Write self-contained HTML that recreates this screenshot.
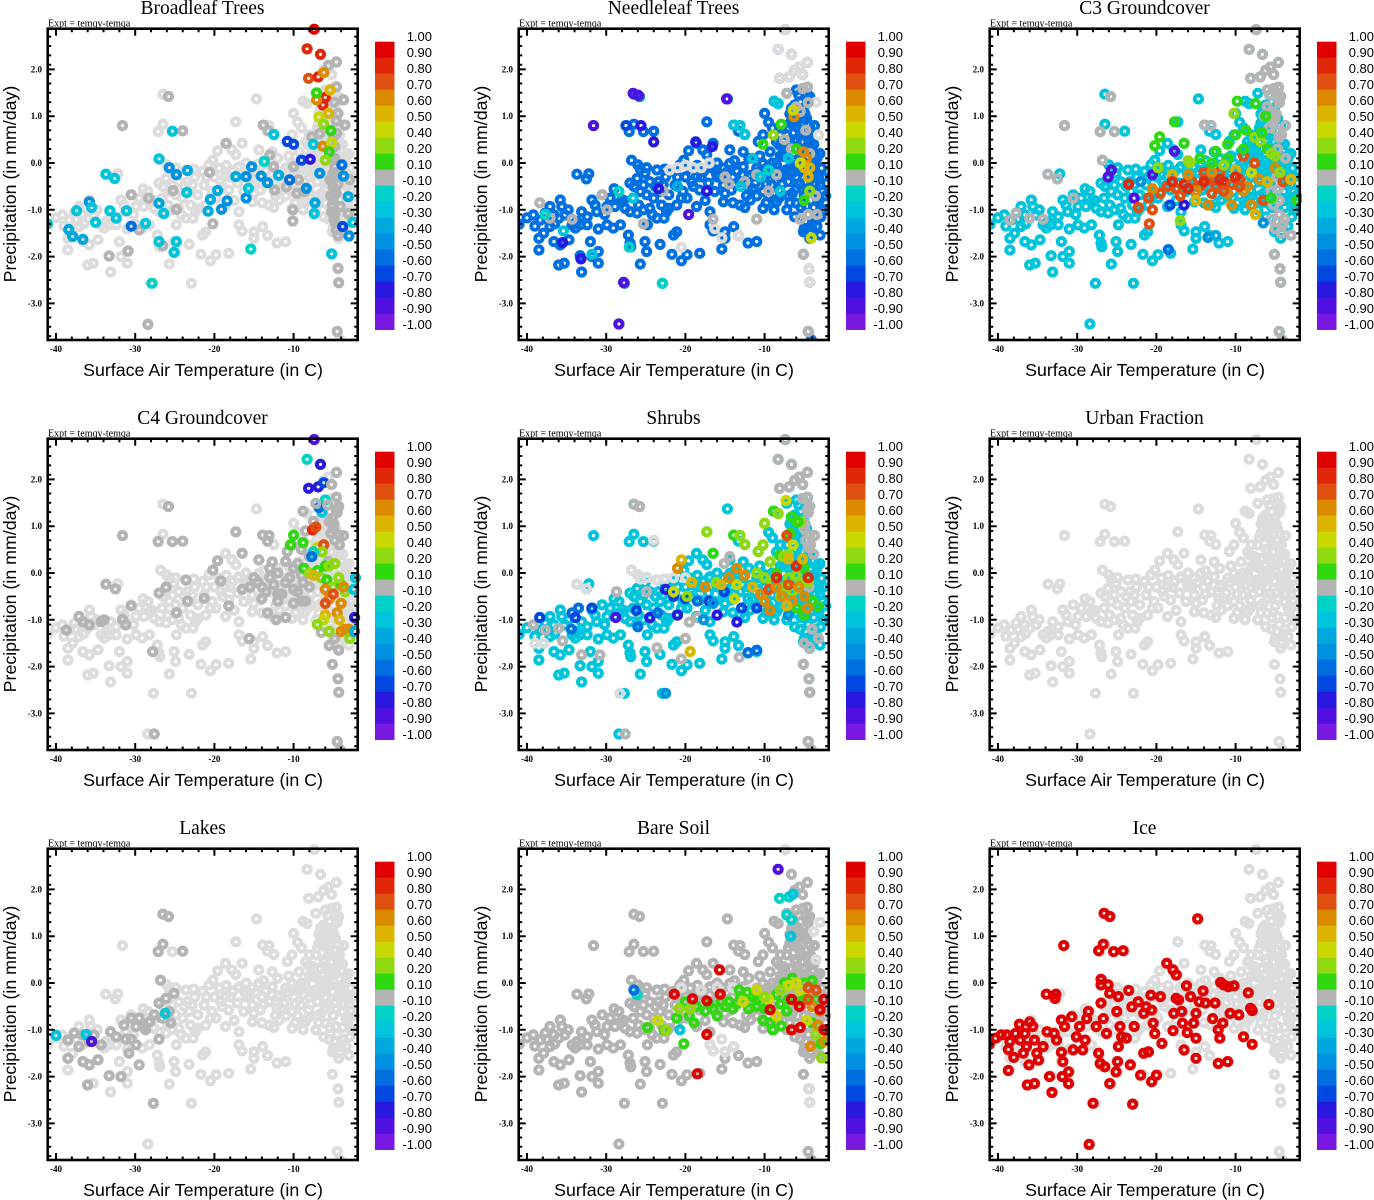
<!DOCTYPE html>
<html><head><meta charset="utf-8"><style>
html,body{margin:0;padding:0;background:#fff;}
svg{display:block;}
</style></head><body>
<svg id="chart" width="1374" height="1200" viewBox="0 0 1374 1200" xmlns="http://www.w3.org/2000/svg"></svg>
<script>
// ---------- DATA ----------
const panelTitles = ["Broadleaf Trees","Needleleaf Trees","C3 Groundcover","C4 Groundcover","Shrubs","Urban Fraction","Lakes","Bare Soil","Ice"];
const xTicks = [-40,-30,-20,-10];
const yTicks = [2.0,1.0,0.0,-1.0,-2.0,-3.0];
const cbLevels = [1.0,0.9,0.8,0.7,0.6,0.5,0.4,0.2,0.1,-0.1,-0.2,-0.3,-0.4,-0.5,-0.6,-0.7,-0.8,-0.9,-1.0];
const cbLabels = ["1.00","0.90","0.80","0.70","0.60","0.50","0.40","0.20","0.10","-0.10","-0.20","-0.30","-0.40","-0.50","-0.60","-0.70","-0.80","-0.90","-1.00"];
const cbColors = ["#e00000","#e02808","#e05010","#dc8a00","#dcb400","#c8d800","#90d810","#30d810","#b4b4b4","#00d2c8","#00c4dc","#00a8e0","#0090e0","#0070e0","#0048e0","#2818e0","#5010e0","#7818e0"];

// shared cloud of (temperature, precipitation) points
const baseCloud = [
[-7.4,2.85],[-8.3,2.43],[-6.6,2.32],[-4.6,2.15],[-6.2,1.98],[-5.6,2.05],[-5.2,1.89],[-8.1,1.81],[-6.9,1.84],[-4.6,1.62],[-7.2,1.49],[-6.0,1.56],[-5.2,1.59],[-4.3,1.42],[-4.5,1.29],[-8.8,1.32],[-8.3,1.27],[-14.7,1.37],[-26.5,1.47],[-25.8,1.42],[-31.6,0.80],[-27.1,0.67],[-26.5,0.83],[-25.3,0.67],[-24.0,0.68],[-17.3,0.88],[-10.0,1.06],[-9.5,0.87],[-13.9,0.81],[-13.1,0.80],[-13.3,0.68],[-12.5,0.61],[-18.6,0.42],[-17.8,0.28],[-17.3,0.18],[-16.5,0.42],[-19.6,0.26],[-20.2,0.06],[-14.4,0.28],[-12.7,0.24],[-10.8,0.46],[-10.2,0.60],
[-26.8,0.06],[-26.0,-0.04],[-25.7,-0.13],[-24.9,-0.10],[-33.7,-0.24],[-32.2,-0.23],[-32.5,-0.34],[-27.0,-0.43],[-26.1,-0.33],[-25.1,-0.22],[-23.6,-0.15],[-22.6,-0.13],[-23.4,-0.40],
[-6.0,1.2],[-5.5,1.1],[-6.4,1.0],[-5.0,0.95],[-6.8,0.85],[-5.8,0.75],[-4.8,0.7],[-7.2,0.6],[-6.2,0.5],[-5.3,0.45],[-4.5,0.55],[-7.6,0.35],[-6.6,0.3],[-5.6,0.25],[-4.6,0.2],[-8.5,0.45],[-9.3,0.24],[-8.1,0.38],[-3.8,0.4],[-3.4,0.1],
[-21.5,-0.18],[-20.7,-0.04],[-19.4,-0.11],[-18.6,-0.29],[-17.7,-0.18],[-16.9,-0.08],[-16.1,-0.22],[-15.2,-0.11],[-14.4,-0.01],[-13.5,-0.18],[-12.7,-0.08],[-11.8,-0.26],[-11.0,-0.11],[-10.2,-0.01],[-9.3,-0.18],[-8.5,-0.04],[-7.6,-0.22],[-6.8,-0.11],[-6.0,-0.04],[-5.1,-0.18],[-4.3,-0.08],[-3.4,-0.26],[-2.8,-0.11],
[-21.3,-0.47],[-20.3,-0.61],[-19.2,-0.40],[-18.2,-0.58],[-17.1,-0.43],[-16.3,-0.61],[-15.2,-0.47],[-14.2,-0.58],[-13.1,-0.40],[-12.1,-0.54],[-11.2,-0.43],[-10.2,-0.61],[-9.1,-0.47],[-8.1,-0.58],[-7.0,-0.40],[-6.0,-0.54],[-4.9,-0.43],[-3.9,-0.61],[-3.0,-0.47],
[-21.1,-0.90],[-19.8,-0.75],[-18.6,-0.93],[-16.9,-1.04],[-15.2,-0.83],[-13.1,-0.90],[-11.8,-0.79],[-10.2,-0.97],[-8.5,-0.83],[-7.2,-1.00],[-6.0,-0.86],[-4.7,-0.93],[-3.4,-0.75],[-2.6,-1.00],
[-20,-0.3],[-18,-0.3],[-16,-0.3],[-14,-0.3],[-12,-0.3],[-10,-0.3],[-8,-0.3],[-6,-0.3],[-4,-0.3],[-15,-0.65],[-11,-0.7],[-7,-0.7],[-5,-0.7],[-9,0.0],[-7,0.1],[-5,0.05],[-3.2,-0.3],[-2.7,-0.6],[-4.5,-1.1],[-5.5,-1.2],[-4.0,-1.3],[-5.0,-1.4],[-4.2,-1.5],[-3.8,-1.2],
[-7.6,0.14],[-6.8,0.31],[-6.0,0.46],[-5.1,0.17],[-4.3,0.38],[-3.4,0.14],[-6.4,0.81],[-5.5,0.67],[-4.7,0.95],[-6.0,1.10],[-6.6,1.17],[-5.1,1.17],[-4.3,0.81],[-5.5,1.31],[-6.2,1.24],
[-5.1,-1.47],[-4.3,-1.61],[-4.1,-1.36],[-3.0,-1.54],[-5.1,-1.95],[-4.4,-2.26],[-4.3,-2.55],[-4.5,-3.60],[-4.1,-3.78],
[-16.9,-1.32],[-16.5,-1.45],[-15.0,-1.47],[-15.0,-1.61],[-13.3,-1.55],[-12.1,-1.71],[-11.0,-1.68],[-13.9,-1.36],[-15.4,-1.84],[-18.2,-1.93],[-19.8,-1.96],[-20.5,-2.09],[-21.7,-1.95],[-21.5,-1.54],[-21.1,-1.47],[-23.2,-1.74],[-22.9,-2.57],[-24.9,-1.89],[-25.1,-1.68],[-24.8,-1.32],[-23.6,-1.18],[-22.7,-1.18],[-22.4,-1.04],[-22.1,-0.97],
[-24.5,-0.97],[-25.3,-1.00],[-26.1,-1.07],[-27.0,-1.04],[-27.6,-0.97],[-27.2,-1.54],[-27.0,-1.71],[-26.9,-1.79],[-25.7,-2.16],[-27.7,-2.57],[-28.4,-3.44],
[-41.0,-1.31],[-40,-1.17],[-39.2,-1.11],[-38.3,-1.22],[-37.7,-1.07],[-37.1,-0.93],[-36.6,-1.11],[-35.8,-0.79],[-35.6,-0.93],[-36.0,-1.18],[-35.2,-1.11],[-34.3,-1.32],[-33.7,-1.25],[-33.1,-1.04],[-32.4,-1.15],[-31.8,-0.79],[-31.4,-0.90],[-31.2,-1.04],[-30.5,-0.68],[-29.9,-0.93],[-29.5,-0.75],[-28.9,-0.93],[-28.4,-0.61],[-28.2,-0.83],[-29.9,-1.32],[-29.1,-1.39],[-28.2,-1.32],[-38.5,-1.61],[-37.9,-1.50],[-37.1,-1.36],[-36.6,-1.68],[-35.8,-1.75],[-34.7,-1.64],[-38.5,-1.86],[-33.3,-1.98],[-31.8,-2.00],[-31.0,-1.89],[-31.0,-2.14],[-36.0,-2.18],[-35.3,-2.14],[-33.1,-2.33],[-32.0,-1.68],[-31.0,-1.41],[-33.9,-1.39],[-33.3,-1.32],[-32.4,-1.32],
[-26.6,-0.75],[-25.7,-0.61],[-24.9,-0.68],[-24.0,-0.75],[-23.2,-0.61],[-22.8,-0.47],[-22.1,-0.68],[-25.3,-0.47],[-24.5,-0.40],[-25.9,-0.90],
// extra density in the main band and right spine
[-21,-0.3],[-19,-0.5],[-17,-0.1],[-15.5,-0.3],[-14.8,-0.2],[-13.8,-0.45],[-12.8,-0.25],[-12.3,-0.7],[-11.5,-0.55],[-10.8,-0.2],[-9.8,-0.45],[-9.5,-0.7],[-8.8,-0.25],[-8.2,-0.75],[-7.8,-0.45],[-7.3,-0.15],[-6.5,-0.65],[-6.4,-0.2],[-5.6,-0.45],[-5.4,-0.05],[-4.6,-0.55],[-4.4,-0.3],[-3.6,-0.45],[-3.1,-0.8],[-2.6,-0.3],[-2.3,-0.7],
[-18.5,-0.05],[-16,0.0],[-13.8,0.05],[-12,0.1],[-10.6,0.15],[-9.7,-0.1],[-8,0.15],[-6.3,0.05],[-4.9,0.3],[-3.9,-0.05],[-3.0,0.2],
[-17.5,-0.8],[-14,-0.85],[-12.5,-0.95],[-9.8,-0.85],[-8.8,-1.0],[-6.8,-0.85],[-5.4,-0.95],[-3.8,-0.95],[-2.9,-1.15],[-6.2,-1.15],[-4.8,-1.25],[-3.4,-1.35],
[-5.8,0.95],[-4.9,1.05],[-5.3,0.85],[-4.6,1.35],[-5.7,1.45],[-6.8,1.05],[-4.2,0.6],[-3.7,0.8],[-5.9,0.35],[-4.0,0.25],[-7.0,0.75],[-8.0,0.6],[-9.0,0.75],
[-23,-0.9],[-22.5,-0.3],[-20.5,-0.75],[-23.8,-0.5],[-24.2,-1.1],[-26.5,-0.5],[-27.8,-0.8],[-29,-0.55],[-30.2,-1.1],[-34.8,-1.0],[-36.5,-1.3],[-39,-1.35],[-37.5,-1.2]
];

// value assigned to the shared cloud in each panel (null = not in class, light grey)
const baseValues = [null,-0.6,-0.22,null,-0.3,null,null,0,null];

// per-panel overlay points: [temperature, precipitation, correlation value (null = light grey)]
const overBroadleaf = [
[-25.8,1.42,0],[-31.6,0.8,0],[-24.0,0.69,0],[-18.5,0.42,0],[-13.8,0.81,0],[-13.2,0.69,0],[-13.0,0.17,0],[-20.6,-0.2,0],[-25.2,-0.59,0],[-24.8,-0.99,0],[-28.3,-0.75,0],[-30.5,-0.68,0],[-29.5,-1.43,0],[-30.9,-1.88,0],[-33.3,-1.99,0],[-28.4,-3.45,0],[-26.5,-1.77,0],[-20.2,-1.3,0],[-10.1,-1.24,0],[-10.1,-1.0,0],
[-5.0,-0.51,0],[-4.8,-0.08,0],[-5.0,-0.79,0],[-4.8,-1.08,0],[-4.6,-1.43,0],[-4.4,-2.25,0],[-4.3,-2.56,0],[-4.5,-3.6,0],[-4.8,0.35,0],[-4.6,0.63,0],[-4.4,1.06,0],[-4.6,1.63,0],[-4.6,2.16,0],[-5.6,2.09,0],[-3.7,1.35,0],[-3.5,0.81,0],[-5.0,0.56,0],[-5.2,0.14,0],[-5.0,-0.22,0],[-5.4,-0.36,0],[-4.6,-0.65,0],[-4.1,-0.93,0],[-2.9,-0.36,0],[-3.1,-1.08,0],[-10,-0.08,0],[-9.4,-0.36,0],[-8.6,-0.61,0],[-9.6,-0.65,0],[-10.9,-0.51,0],[-12.5,-0.08,0],[-12.4,-0.58,0],[-7.7,0.56,0],[-6.7,0.63,0],
[-5.1,-0.3,0],[-4.9,-0.6,0],[-5.1,-0.9,0],[-4.9,-1.2,0],[-4.8,0.1,0],[-5.3,0.3,0],[-4.5,-0.2,0],[-4.4,-0.45,0],[-5.3,-0.7,0],[-4.7,-1.3,0],[-4.4,-1.55,0],[-5.2,-1.05,0],[-4.6,0.9,0],[-4.9,1.3,0],
[-41.1,-1.3,-0.25],[-33.7,-0.24,-0.25],[-32.6,-0.33,-0.25],[-35.8,-0.83,-0.45],[-35.5,-0.95,-0.3],[-37.4,-1.02,-0.25],[-38.4,-1.42,-0.35],[-37.9,-1.57,-0.4],[-36.6,-1.63,-0.4],[-35.0,-1.27,-0.3],[-33.2,-1.02,-0.25],[-31.1,-1.02,-0.3],[-32.4,-1.18,-0.3],[-30.5,-1.35,-0.55],[-28.7,-1.29,-0.25],[-27.9,-2.57,-0.2],[-27.0,0.09,-0.3],[-25.7,-0.1,-0.5],[-24.8,-0.25,-0.5],[-23.4,-0.16,-0.35],[-25.3,0.68,-0.3],[-23.5,-0.63,-0.25],[-27.0,-0.86,-0.4],[-26.4,-1.08,-0.25],[-27.0,-1.68,-0.25],[-24.8,-1.68,-0.25],[-25.1,-1.91,-0.25],[-20.5,-0.78,-0.35],[-19.6,-0.59,-0.35],[-20.8,-1.03,-0.4],[-19.1,-0.99,-0.5],[-18.4,-0.81,-0.45],[-17.3,-0.29,-0.4],[-16.0,-0.29,-0.45],[-16.0,-0.75,-0.45],[-15.3,-0.08,-0.5],[-15.4,-1.84,-0.2],[-15.7,-0.54,-0.3],[-14.1,-0.28,-0.45],[-13.7,0.03,-0.2],[-13.3,-0.42,-0.5],[-12.5,0.61,-0.3],[-10.8,0.46,-0.7],[-10.0,0.40,-0.65],[-11.9,-0.26,-0.4],[-10.5,-0.36,-0.6],[-9.0,0.06,-0.7],[-7.9,0.08,-0.8],[-7.5,0.40,-0.3],[-7.3,-0.85,-0.4],[-7.4,-1.08,-0.25],[-5.2,-1.94,-0.25],[-3.8,-1.36,-0.65],[-3.0,-1.56,-0.5],[-2.5,-1.27,-0.3],[-3.1,-0.72,-0.35],[-3.7,-0.28,-0.45],[-8.4,-0.54,-0.45],[-6.7,-0.22,-0.5],[-3.9,-0.04,-0.55],
[-7.4,2.86,0.95],[-8.3,2.44,0.85],[-6.6,2.32,0.8],[-8.1,1.81,0.75],[-6.9,1.84,0.8],[-6.2,1.93,0.65],[-6.0,1.40,0.8],[-6.3,1.24,0.8],[-7.1,1.35,0.65],[-5.4,1.56,0.5],[-7.1,1.50,0.15],[-6.8,0.98,0.45],[-5.6,1.06,0.55],[-6.2,0.83,0.3],[-5.3,0.69,0.15],[-6.3,0.36,0.65],[-5.2,0.43,0.45],[-5.5,0.24,0.15],[-6.0,0.06,0.3]
];
const overNeedleleaf = [
[-7.4,2.85,null],[-8.3,2.43,null],[-6.6,2.32,null],[-4.6,2.15,null],[-6.2,1.98,null],[-5.6,2.05,null],[-5.2,1.89,null],[-8.1,1.81,null],[-6.9,1.84,null],[-3.5,1.3,null],[-3.2,0.6,null],[-20,-0.05,null],[-18,-0.1,null],[-22,-0.15,null],[-16.3,-1.4,null],[-15.4,-1.6,null],[-13.3,-1.55,null],[-20.5,-1.8,null],[-4.3,-2.55,null],[-4.4,-2.26,null],[-19,-0.1,null],[-21,-0.1,null],[-17,0.0,null],
[-4.6,1.62,0],[-7.2,1.49,0],[-5.2,1.59,0],[-6.0,1.2,0],[-5.5,1.1,0],[-4.8,0.7,0],[-4.5,1.29,0],[-4.3,0.2,0],[-4.5,-1.1,0],[-5.5,-1.2,0],[-5.1,-1.95,0],[-4.5,-3.6,0],[-30.5,-0.68,0],[-37.1,-1.18,0],[-38.4,-0.85,0],[-34.3,-1.2,0],[-29.9,-1.0,0],[-25.3,-1.3,0],[-16.5,-1.2,0],[-11.0,-1.2,0],[-9.5,-0.6,0],[-12.5,-0.4,0],[-14.5,-0.45,0],[-15.0,-0.3,0],[-11,-0.25,0],[-8.5,-0.25,0],[-7.5,0.5,0],[-6.6,0.3,0],[-3.6,-0.7,0],[-3.4,-1.1,0],[-22.8,-0.6,0],
[-8.8,1.32,-0.25],[-8.3,1.27,-0.25],[-13.9,0.81,-0.25],[-13.1,0.80,-0.3],[-12.5,0.61,-0.25],[-28.4,-0.61,-0.2],[-26.6,-0.75,-0.25],[-22.9,-2.57,-0.2],[-37.7,-1.1,-0.2],[-35.4,-1.45,-0.25],[-27.1,-1.8,-0.2],[-31.8,-1.95,-0.25],[-10.5,-0.3,-0.25],[-9.5,-0.15,-0.2],[-8.0,-0.6,-0.25],[-7.0,0.1,-0.25],[-11.5,0.1,-0.3],[-13,-0.5,-0.25],[-21,-0.5,-0.35],
[-26.6,1.49,-0.85],[-26.0,1.45,-0.85],[-31.6,0.80,-0.85],[-14.8,1.37,-0.85],[-28.4,-3.44,-0.85],[-27.8,-2.55,-0.85],[-24.0,0.45,-0.75],[-27.5,0.8,-0.7],[-25.6,0.8,-0.75],[-16.6,0.35,-0.8],[-18.7,0.45,-0.75],[-23.4,-0.55,-0.8],[-35.5,-1.7,-0.8],[-33.2,-2.05,-0.8],[-19.6,-1.1,-0.85],[-17.3,-0.6,-0.8],
[-7.9,0.83,0.15],[-10.2,0.40,0.15],[-8.9,0.60,0.35],[-6.3,0.99,0.65],[-6.4,1.13,0.45],[-6.0,0.3,0.15],[-5.1,0.24,0.65],[-4.7,0.1,0.6],[-4.3,-0.1,0.55],[-5.0,-0.1,0.5],[-4.5,-0.3,0.5],[-5.5,0.0,0.4],[-4.3,-0.6,0.3],[-5.0,-0.8,0.15],[-4.1,-1.6,0.45]
];
const overC3 = [
[-7.4,2.85,0],[-8.3,2.43,0],[-6.6,2.32,0],[-4.6,2.15,0],[-6.2,1.98,0],[-5.6,2.05,0],[-5.2,1.89,0],[-8.1,1.81,0],[-6.9,1.84,0],[-4.6,1.62,0],[-5.2,1.59,0],[-6.0,1.56,0],[-4.3,1.42,0],[-4.5,1.29,0],[-6.0,1.2,0],[-5.5,1.1,0],[-6.4,1.0,0],[-5.0,0.95,0],[-4.8,0.7,0],[-5.8,0.75,0],[-4.5,0.55,0],[-13.9,0.81,0],[-13.1,0.80,0],[-25.8,1.42,0],[-31.6,0.8,0],[-27.1,0.67,0],[-25.3,0.67,0],[-33.7,-0.24,0],[-32.5,-0.34,0],[-26.8,0.06,0],[-4.5,-1.1,0],[-5.5,-1.2,0],[-4.0,-1.3,0],[-5.0,-1.4,0],[-4.2,-1.5,0],[-5.1,-1.95,0],[-4.4,-2.26,0],[-4.3,-2.55,0],[-4.5,-3.6,0],[-4.1,-3.78,0],[-3.8,-1.2,0],[-3.0,-1.54,0],[-38.5,-1.22,0],[-37.7,-1.07,0],[-36.0,-1.18,0],[-34.3,-1.2,0],[-30.5,-0.75,0],[-4.7,0.3,0],[-3.7,0.1,0],[-5.5,-0.6,0],[-4.5,-0.8,0],[-4.9,1.05,0],[-5.3,0.85,0],[-4.6,1.35,0],[-5.7,1.45,0],[-4.2,0.6,0],[-3.7,0.8,0],[-4.8,-0.3,0],[-4.6,-0.55,0],[-5.2,-0.9,0],
[-26.1,-0.3,-0.85],[-25.7,-0.15,-0.85],[-20.5,-0.25,-0.85],[-16.5,-0.9,-0.8],[-18.3,-0.9,-0.7],[-17.7,0.25,-0.85],[-22.8,-0.75,-0.85],[-22,-0.4,-0.5],[-13.5,-1.59,-0.5],[-12.5,-1.55,-0.4],[-18.5,-1.85,-0.6],[-6.5,-1.28,-0.5],
[-18.6,-0.5,0.75],[-17.5,-0.55,0.75],[-16.5,-0.45,0.85],[-15.5,-0.4,0.75],[-14.5,-0.5,0.7],[-13.5,-0.35,0.75],[-12.5,-0.5,0.75],[-11.5,-0.4,0.8],[-10.5,-0.45,0.7],[-9.5,-0.35,0.75],[-8.5,-0.5,0.65],[-15.0,-0.6,0.65],[-13,-0.65,0.75],[-11,-0.65,0.65],[-9,-0.6,0.6],[-17,-0.7,0.75],[-19.5,-0.65,0.75],[-20.5,-0.55,0.6],[-21,-0.75,0.75],[-22.3,-0.95,0.75],[-20.5,-1.0,0.75],[-20.9,-1.3,0.75],[-23.5,-0.45,0.8],[-18,-0.25,0.55],[-16,-0.25,0.6],[-14,-0.2,0.7],[-12,-0.2,0.75],[-10,-0.15,0.55],[-8,-0.2,0.45],[-7,-0.35,0.6],[-6,-0.4,0.55],[-5,-0.1,0.65],[-4,-0.4,0.7],[-3,-0.35,0.55],[-6.5,-0.8,0.75],[-8,-0.9,0.6],[-10.5,-0.9,0.6],[-7.5,-1.1,0.5],[-13.5,-0.9,0.6],[-15.0,-0.8,0.55],[-7.6,0.0,0.7],[-9,0.15,0.75],
[-16,-0.55,0.8],[-14,-0.4,0.8],[-12,-0.35,0.85],[-10,-0.3,0.8],[-18,-0.4,0.8],[-11.5,-0.6,0.75],[-9.5,-0.5,0.75],[-13,-0.2,0.65],
[-17.7,0.88,0.15],[-16.5,0.42,0.15],[-19.6,0.56,0.15],[-20.2,0.37,0.15],[-19.8,-0.1,0.2],[-10.2,1.06,0.3],[-10.0,0.6,0.15],[-11,0.4,0.15],[-8.7,0.70,0.15],[-6.8,0.45,0.2],[-6.0,0.3,0.15],[-5.5,0.2,0.3],[-7.5,1.27,0.15],[-9.8,1.32,0.15],[-7.6,0.55,0.3],[-12.5,0.25,0.15],[-14.5,0.1,0.15],[-16,0.05,0.3],[-13,0.0,0.15],[-11,0.1,0.15],[-9,0.3,0.15],[-6.2,1.0,0.15],[-6.7,0.65,0.15],[-5.0,0.15,0.3],[-4.4,-0.2,0.2],[-2.3,-0.8,0.15],[-17,-1.23,0.3],[-5.5,-0.75,0.15],[-11.5,-0.05,0.3],[-15.8,-0.0,0.3]
];
const overC4 = [
[-8.3,2.43,-0.2],[-7.4,2.85,-0.85],[-6.6,2.32,-0.75],[-8.1,1.81,-0.75],[-6.9,1.84,-0.75],[-6.2,1.93,-0.7],[-6.0,1.56,-0.2],[-6.4,1.3,-0.25],[-6.8,1.4,-0.6],
[-4.6,2.15,0],[-5.2,1.89,0],[-4.6,1.62,0],[-4.5,1.29,0],[-4.3,1.42,0],[-7.2,1.49,0],[-8.8,1.32,0],[-5.5,1.1,0],[-5.0,0.95,0],[-4.8,0.7,0],[-5.6,0.25,0],[-4.3,0.81,0],[-5.1,1.17,0],[-4.9,1.05,0],[-5.3,0.85,0],[-4.6,1.35,0],[-5.7,1.45,0],[-4.2,0.6,0],[-3.7,0.8,0],
[-25.8,1.42,0],[-31.6,0.8,0],[-27.1,0.67,0],[-25.3,0.67,0],[-24,0.68,0],[-17.3,0.88,0],[-13.9,0.81,0],[-13.1,0.8,0],[-13.3,0.68,0],[-16.5,0.42,0],[-19.6,0.26,0],[-20.2,0.06,0],[-14.4,0.28,0],[-12.7,0.24,0],[-10.8,0.46,0],[-10.2,0.6,0],[-33.7,-0.24,0],[-32.5,-0.34,0],[-27,-0.43,0],[-26.1,-0.3,0],[-23.6,-0.15,0],[-23.4,-0.6,0],[-21.3,-0.54,0],[-19.2,-0.17,0],[-18.2,-0.7,0],[-16.5,-0.35,0],[-15.5,-0.3,0],[-37.1,-0.93,0],[-36.6,-1.04,0],[-35.8,-1.11,0],[-38.7,-1.22,0],[-34.3,-1.04,0],[-33.9,-1.0,0],[-31.6,-0.99,0],[-31.2,-1.11,0],[-30.5,-0.70,0],[-27.8,-1.68,0],[-24.8,-0.85,0],[-27.6,-3.44,0],[-15.6,-1.4,0],[-6.5,-1.27,0],
[-15,-0.1,0],[-14,-0.3,0],[-13,-0.1,0],[-12,-0.45,0],[-11,-0.2,0],[-10,-0.35,0],[-9,-0.05,0],[-8,-0.3,0],[-14,-0.55,0],[-12,-0.6,0],[-10,-0.65,0],[-8.5,-0.6,0],[-13,0.1,0],[-11,0.25,0],[-9.5,0.2,0],[-8,0.35,0],[-9,0.5,0],[-8.5,0.9,0],[-7.5,1.1,0],[-5.5,-1.55,0],[-4.8,-1.4,0],[-4.3,-1.65,0],[-5.1,-1.95,0],[-4.4,-2.26,0],[-4.3,-2.55,0],[-4.5,-3.6,0],[-4.1,-3.78,0],[-11,-0.95,0],[-13.3,-0.85,0],[-12.2,-1.0,0],
[-14.5,-0.2,0],[-13.5,-0.4,0],[-12.5,-0.25,0],[-11.5,-0.45,0],[-10.5,-0.1,0],[-9.5,-0.4,0],[-8.8,-0.2,0],[-12,0.0,0],[-10,0.1,0],[-9,-0.6,0],
[-7.6,0.92,0.85],[-7.2,0.98,0.75],[-10,0.81,0.15],[-10.4,0.6,0.15],[-8.8,0.65,0.15],[-7.0,0.55,0.4],[-6.2,0.6,0.7],[-6.4,0.45,0.35],[-7.5,0.45,-0.2],[-7.7,0.35,-0.55],
[-8.7,0.1,0.15],[-8.0,0.0,0.2],[-7.0,0.05,0.15],[-6.0,0.15,0.15],[-5.5,0.15,0.25],[-4.8,0.2,0.25],[-6.5,-0.1,0.2],[-5.8,-0.15,0.15],[-5,-0.3,0.2],[-4,-0.25,0.15],[-3.5,-0.4,0.3],[-4.3,-0.1,0.3],[-7.5,-0.05,0.55],
[-6,-0.35,0.6],[-5.5,-0.55,0.65],[-6.0,-0.65,0.75],[-5,-0.45,0.75],[-4,-0.65,0.6],[-4.5,-0.85,0.6],[-6.0,-0.9,0.5],[-3.7,-0.3,0.6],[-4.2,-1.0,0.5],[-3.5,-1.2,0.6],[-4.0,-1.25,0.65],[-6.2,-1.0,0.4],[-7.0,-1.1,0.2],[-5.5,-1.25,0.35],[-3,-1.2,0.6],[-2.9,-1.4,0.3],
[-2.3,-0.95,-0.8],[-2.2,-0.1,-0.3],[-2.4,-0.35,-0.3],[-2.3,-1.25,-0.4]
];
const overShrubs = [
[-26.8,0.06,null],[-26.0,-0.04,null],[-25.7,-0.13,null],[-24.9,-0.10,null],[-23.6,-0.15,null],[-22.6,-0.13,null],[-24,0.7,null],[-33.7,-0.24,null],[-32.5,-0.34,null],[-28.3,-2.57,null],[-21.5,-0.1,null],[-20,-0.1,null],[-39,-1.5,null],[-37.9,-1.5,null],
[-7.4,2.85,0],[-8.3,2.43,0],[-6.6,2.32,0],[-4.6,2.15,0],[-6.2,1.98,0],[-5.6,2.05,0],[-5.2,1.89,0],[-8.1,1.81,0],[-6.9,1.84,0],[-4.6,1.62,0],[-5.2,1.59,0],[-4.3,1.42,0],[-4.5,1.29,0],[-5.0,0.95,0],[-4.8,0.7,0],[-4.5,0.55,0],[-4.3,0.81,0],[-3.8,0.4,0],[-25.8,1.42,0],[-26.5,1.47,0],[-39.2,-1.11,0],[-37.7,-1.22,0],[-36.0,-1.18,0],[-35.5,-1.45,0],[-33.1,-1.75,0],[-30.8,-1.75,0],[-28.7,-0.4,0],[-24.9,-0.4,0],[-23.6,-1.6,0],[-20.5,-1.84,0],[-20,-1.4,0],[-19.5,-1.05,0],[-18.5,-0.95,0],[-13.2,-1.8,0],[-27.6,-3.44,0],[-5.1,-1.95,0],[-4.4,-2.26,0],[-4.3,-2.55,0],[-4.5,-3.6,0],[-4.1,-3.78,0],[-5,-1.5,0],[-4.3,-1.6,0],[-14.4,0.35,0],[-15.1,0.2,0],[-4,-1.2,0],[-3.2,-1.4,0],[-4.9,1.05,0],[-4.6,1.35,0],[-4.2,0.6,0],[-3.7,0.8,0],[-4.4,-0.3,0],
[-34.3,-0.85,-0.6],[-33.5,-0.75,-0.6],[-38.4,-0.95,-0.7],[-33.9,-0.95,-0.7],[-34.4,-1.2,-0.6],[-31.8,-0.75,-0.7],[-28.8,-0.95,-0.85],[-26.2,-0.8,-0.7],[-24.5,-0.95,-0.75],[-23.5,-0.85,-0.55],[-22.5,-0.35,-0.8],[-21.5,-0.5,-0.7],[-21,-0.9,-0.8],[-20,-0.55,-0.65],[-18.5,-0.6,-0.55],[-17,-0.6,-0.7],[-16,-0.9,-0.8],[-13.5,-1.05,-0.8],[-15.1,-0.4,-0.7],[-12.9,-0.75,-0.65],[-11,-0.75,-0.7],[-12.1,-1.7,-0.6],[-11,-1.65,-0.6],[-9.3,-0.8,-0.7],[-7,-0.9,-0.5],[-17.7,-1.0,-0.5],[-22.5,-2.57,-0.5],[-16.5,-0.65,-0.5],[-26,-1.15,-0.6],
[-8.9,1.32,0.15],[-8.3,1.27,0.3],[-10.0,1.06,0.3],[-17.3,0.88,0.3],[-13.9,0.81,0.15],[-13.1,0.80,0.2],[-12.5,0.61,0.3],[-16.5,0.42,0.15],[-10.8,0.46,0.3],[-10.2,0.6,0.3],[-9.3,0.24,0.2],[-8.1,0.38,0.15],[-7.6,0.35,0.3],[-6.8,0.85,0.15],[-6.0,1.1,0.15],[-6.6,1.2,0.15],[-5.5,1.1,0.2],[-7.0,0.4,0.2],[-8.5,0.0,0.15],[-7,-0.1,0.3],[-6,-0.05,0.2],[-5,0.1,0.15],[-4.5,-0.2,0.3],[-4,-0.6,0.15],[-3.3,-0.7,0.15],[-5,-0.9,0.15],[-8,-0.5,0.3],[-10,-0.1,0.3],[-11,0.0,0.2],[-16.1,-0.2,0.3],[-19.8,-0.5,0.3],[-13.5,-0.25,0.4],[-6.4,0.6,0.45],[-7.3,1.55,0.4],[-5.8,1.1,0.15],
[-9,-0.2,0.3],[-7.5,-0.3,0.2],[-6.5,-0.4,0.3],[-5.5,-0.2,0.3],[-6,-0.75,0.15],
[-20.5,0.28,0.55],[-21,0.1,0.6],[-19.2,-0.2,0.55],[-17.5,-0.3,0.6],[-15.5,-0.25,0.55],[-14.5,-0.1,0.6],[-13.5,0.1,0.65],[-12.5,-0.05,0.65],[-11.5,-0.3,0.55],[-10.5,-0.45,0.6],[-9.5,-0.35,0.7],[-8.5,-0.3,0.6],[-7.8,-0.5,0.6],[-7,-0.25,0.7],[-6.5,-0.6,0.65],[-5.7,-0.3,0.65],[-5,-0.5,0.6],[-4.5,-0.1,0.8],[-6,0.15,0.8],[-7.2,0.8,0.7],[-5.2,0.3,0.55],[-9.3,-0.8,0.6],[-10,-0.6,0.6],[-7.2,-0.7,0.5],[-4.6,-0.75,0.65],[-21.5,-0.4,0.45],[-13.8,-0.55,0.45],[-19.4,-1.68,0.5],[-8.5,-0.1,0.8],[-7,0.3,0.55]
];
const overUrban = [];
const overLakes = [
[-38.5,-1.22,0],[-37.7,-1.07,0],[-36.6,-1.11,0],[-35.8,-1.25,0],[-35.2,-1.11,0],[-34.3,-1.32,0],[-33.1,-1.04,0],[-32.4,-1.15,0],[-31.4,-0.90,0],[-30.5,-0.75,0],[-29.9,-0.93,0],[-29.5,-0.75,0],[-28.9,-0.93,0],[-28.2,-0.83,0],[-27.6,-0.68,0],[-26.6,-0.75,0],[-25.7,-0.61,0],[-29.9,-1.32,0],[-38.5,-1.61,0],[-37.1,-1.36,0],[-36.6,-1.68,0],[-35.8,-1.75,0],[-36.0,-2.18,0],[-34.7,-1.64,0],[-33.3,-1.98,0],[-31.8,-2.0,0],[-30.5,-1.2,0],[-27.7,-2.57,0],[-26.5,1.47,0],[-25.8,1.42,0],[-26.5,0.83,0],[-27.1,0.67,0],[-24,0.68,0],[-26.8,0.06,0],[-27.0,-0.43,0],[-26.1,-0.33,0],[-25.1,-0.22,0],[-28.7,-1.0,0],[-29.5,-1.75,0],[-30.8,-1.5,0],[-31.2,-1.2,0],[-27,-1.2,0],[-25.5,-0.85,0],
[-40.0,-1.12,-0.25],[-36.2,-1.1,-0.3],[-26.2,-0.65,-0.25],[-35.5,-1.25,-0.85]
];
const overBareSoil = [
[-7.4,2.85,null],[-20.5,-0.1,null],[-18,-0.15,null],[-16,-0.1,null],[-14,-0.1,null],[-12,-0.15,null],[-16.9,-1.32,null],[-16.5,-1.45,null],[-15,-1.47,null],[-15.4,-1.2,null],[-13.9,-1.36,null],[-4.3,-2.26,null],[-4.3,-2.55,null],[-3.5,0.5,null],[-3,1.3,null],[-3.8,1.1,null],
[-8.3,2.43,-0.9],[-8.1,1.81,-0.2],[-6.9,1.84,-0.2],[-6.4,1.9,-0.25],[-7.2,1.45,-0.2],[-6.6,1.35,-0.2],[-6.7,1.0,-0.25],[-26.1,-0.25,-0.2],[-26.5,-0.15,-0.6],[-20.7,-1.0,-0.25],
[-24.8,-0.95,0.15],[-22.7,-1.0,0.15],[-21.1,-0.75,0.15],[-20.2,-1.3,0.15],[-20,-0.4,0.15],[-19.5,-0.7,0.15],[-18.9,-0.85,0.15],[-18.6,-0.5,0.15],[-17.5,-0.6,0.15],[-16.5,-0.55,0.15],[-15.5,-0.4,0.15],[-14.5,-0.4,0.15],[-13.5,-0.45,0.15],[-13.2,-0.15,0.15],[-12.2,-0.2,0.15],[-12,-0.55,0.15],[-11,-0.5,0.15],[-10.2,-0.8,0.15],[-9.3,-0.85,0.15],[-9,-1.0,0.15],[-8.5,-0.25,0.15],[-7.5,0.0,0.15],[-6.5,0.1,0.15],[-6.0,-0.4,0.15],[-7.2,-0.6,0.15],[-8,-0.45,0.15],[-5.0,0.0,0.15],[-4,0.05,0.15],[-3.5,-0.35,0.15],[-7.9,-0.92,0.15],[-4,-0.85,0.15],[-2.9,-1.3,0.15],[-16,-0.7,0.15],[-14,-0.55,0.15],[-10,-0.55,0.15],[-11.5,-0.3,0.15],
[-15,-0.5,0.15],[-13,-0.3,0.15],[-11,-0.35,0.15],[-9.5,-0.55,0.15],[-7,-0.35,0.15],[-5,-0.35,0.15],[-17,-0.45,0.15],
[-23.5,-0.8,0.45],[-22.5,-1.0,0.35],[-20.8,-0.55,0.35],[-19.4,-0.55,0.35],[-12.7,-0.4,0.45],[-11,-0.15,0.45],[-9.5,-0.35,0.45],[-8.5,-0.7,0.4],[-5.5,-0.15,0.45],[-7,-0.05,0.4],[-6,0.0,0.4],[-4.7,-0.8,0.4],[-3.5,-1.1,0.35],[-2.8,-1.6,0.35],[-8,-0.15,0.35],[-10,-0.3,0.35],
[-4.5,-0.1,0.7],[-3.5,-0.15,0.7],[-3.0,-0.6,0.6],[-4.2,-1.35,0.6],[-2.5,-1.25,0.6],[-4.0,-0.5,0.6],[-3.3,-0.9,0.6],
[-21.4,-0.24,0.95],[-19.1,-0.34,0.95],[-17.3,-0.38,0.95],[-15.6,-0.24,0.95],[-15.7,0.28,0.95],[-17.3,-1.1,0.95],[-18.5,-1.94,0.95],[-9.3,-0.57,0.95],[-6.6,-0.35,0.95],[-5.6,-0.5,0.95],[-5.5,-0.95,0.95],[-6.6,-1.0,0.95],[-3.0,-0.57,0.95],[-2.5,-0.35,0.95],[-2.5,-1.0,0.9],[-4.5,-0.35,0.75]
];
const overIce = [
[-41.1,-1.31,0.95],[-40.3,-1.18,0.95],[-39.6,-1.11,0.95],[-38.9,-1.11,0.95],[-38.5,-1.25,0.95],[-38.7,-1.42,0.95],[-38.7,-1.87,0.95],[-38.0,-1.59,0.95],[-37.8,-1.08,0.95],[-37.3,-0.88,0.95],[-37.2,-1.22,0.95],[-36.6,-1.08,0.95],[-36.4,-1.36,0.95],[-36.8,-1.5,0.95],[-36.1,-1.75,0.95],[-36.0,-0.83,0.95],[-35.6,-0.93,0.95],[-35.4,-1.22,0.95],[-35.1,-1.5,0.95],[-36.3,-2.18,0.95],[-35.4,-2.15,0.95],[-34.9,-1.65,0.95],[-34.3,-1.36,0.95],[-33.8,-1.04,0.95],[-33.9,-0.24,0.95],[-32.7,-0.24,0.95],[-32.8,-0.33,0.95],[-33.5,-2.0,0.95],[-33.2,-2.34,0.95],[-32.9,-1.08,0.95],[-32.6,-1.22,0.95],[-32.0,-0.79,0.95],[-32.0,-1.48,0.95],[-31.8,-1.68,0.95],[-31.9,-2.0,0.95],[-31.7,0.80,0.95],[-31.6,-0.93,0.95],[-31.1,-1.9,0.95],[-31.1,-2.15,0.95],[-30.7,-0.72,0.95],[-30.5,-1.43,0.95],[-30.1,-1.15,0.95],[-29.7,-0.93,0.95],[-29.3,-1.43,0.95],[-29.0,-1.22,0.95],[-28.8,-0.76,0.95],[-28.6,-0.61,0.95],[-28.5,-3.45,0.95],[-28.0,-2.57,0.95],[-27.6,-0.93,0.95],[-27.3,-1.5,0.95],[-27.3,0.69,0.95],[-27.0,0.08,0.95],[-27.0,-0.04,0.95],[-27.0,-0.43,0.95],[-26.6,1.49,0.95],[-25.9,1.42,0.95],[-26.7,0.83,0.95],[-25.4,0.67,0.95],[-24.2,0.69,0.95],[-26.1,-0.04,0.95],[-25.9,-0.22,0.95],[-26.7,-0.76,0.95],[-26.3,-1.08,0.95],[-27.1,-1.72,0.95],[-26.5,-1.79,0.95],[-25.9,-2.15,0.95],[-25.0,-0.61,0.95],[-24.8,-0.29,0.95],[-24.6,-0.93,0.95],[-25.1,-1.9,0.95],[-24.9,-1.68,0.95],[-24.8,-1.36,0.95],[-24.4,-1.15,0.95],[-23.8,-1.18,0.95],[-23.3,-1.75,0.95],[-23.0,-2.59,0.95],[-23.5,-0.16,0.95],[-23.1,-0.51,0.95],[-22.8,-0.93,0.95],[-22.3,-0.4,0.95],[-21.6,-0.65,0.95],[-21.3,-0.51,0.95],[-22.0,-1.97,0.95],[-21.6,-1.5,0.95],[-21.0,-1.47,0.95],[-20.7,-0.26,0.95],[-20.6,-0.58,0.95],[-20.4,-0.86,0.95],[-20.2,-1.08,0.95],[-20.0,-1.97,0.95],[-20.6,-2.11,0.95],[-19.5,-0.29,0.95],[-19.3,-1.29,0.95],[-18.7,0.42,0.95],[-17.9,0.28,0.95],[-17.5,0.17,0.95],[-17.8,-0.65,0.95],[-17.5,-0.33,0.95],[-17.2,-0.36,0.95],[-16.8,-0.61,0.95],[-17.9,-1.02,0.95],[-16.5,-1.43,0.95],[-16.2,-0.06,0.95],[-16.7,-0.86,0.95],[-16.1,-1.06,0.95],[-15.7,-0.29,0.95],[-15.3,-0.86,0.95],[-15.0,-1.18,0.95],[-15.0,-1.61,0.95],[-14.8,1.37,0.95],[-15.0,-0.65,0.95],[-14.6,-0.4,0.95],[-14.1,-0.17,0.95],[-13.8,-0.43,0.95],[-12.9,-0.76,0.95],[-12.6,-0.43,0.95],[-12.2,-1.0,0.95],[-12.0,-1.18,0.95],[-12.2,-1.72,0.95],[-11.9,0.01,0.95],[-11.5,-0.04,0.95],[-10.9,-0.08,0.95],[-10.2,-0.06,0.95],[-11.0,-1.68,0.95],[-11.6,-0.86,0.95],[-10.7,-0.65,0.95],[-9.6,-0.68,0.95],[-9.0,-1.15,0.95],[-8.4,-0.21,0.95],[-8.1,-0.54,0.95],[-7.9,-0.59,0.95],[-7.9,-1.31,0.95],[-5.8,-0.46,0.95]
];
const overlays = [overBroadleaf,overNeedleleaf,overC3,overC4,overShrubs,overUrban,overLakes,overBareSoil,overIce];

// ---------- DRAW ----------
const NS = "http://www.w3.org/2000/svg";
const svg = document.getElementById("chart");
function mk(tag, attrs, parent){ const e=document.createElementNS(NS,tag); for(const k in attrs) e.setAttribute(k,attrs[k]); (parent||svg).appendChild(e); return e; }
const FL=47.7, FR=357.7, FT=28.7, FB=340;
function xScale(t){ return 56 + (t+40)*7.92; }
function yScale(p){ return 163 - p*46.8; }
function colorFor(v){
  if(v===null) return "#dcdcdc";
  for(let i=0;i<cbColors.length;i++){ if(v>=cbLevels[i+1]) return cbColors[i]; }
  return cbColors[cbColors.length-1];
}
const fsans='"Liberation Sans", sans-serif', fserif='"Liberation Serif", serif';

panelTitles.forEach((title, idx)=>{
  const col=idx%3, row=Math.floor(idx/3);
  const g=mk("g",{transform:`translate(${col*471},${row*410})`});
  
  
  const tt=mk("text",{x:202.5,y:14,"text-anchor":"middle","font-family":fserif,"font-size":19.5},g);
  tt.textContent=title;
  
  
  const ex=mk("text",{x:48,y:26.5,"font-family":fserif,"font-size":10},g);
  ex.textContent="Expt = temqy-temqa";
  
  
  const clip=mk("clipPath",{id:"c"+idx},g); mk("rect",{x:FL,y:FT-6,width:FR-FL+6,height:FB-FT+6},clip);
  const pg=mk("g",{"clip-path":`url(#c${idx})`},g);
  
  
  const bv=baseValues[idx];
  baseCloud.forEach(d=>{
    const c=mk("circle",{cx:xScale(d[0]).toFixed(1),cy:yScale(d[1]).toFixed(1),r:3.6,fill:"none",stroke:colorFor(bv),"stroke-width":4},pg);
    
    
  });
  overlays[idx].forEach(d=>{
    const c=mk("circle",{cx:xScale(d[0]).toFixed(1),cy:yScale(d[1]).toFixed(1),r:3.6,fill:"none",stroke:colorFor(d[2]),"stroke-width":4},pg);
    
    
  });
  const fr=mk("rect",{x:FL,y:FT,width:FR-FL,height:FB-FT,fill:"none",stroke:"#000","stroke-width":2.6},g);
  
  
  let tp="";
  for(let t=-42;t<=-2;t+=2){ const x=xScale(t); if(x<FL+1||x>FR-1) continue; const L=(t%10===0)?7:3.5; tp+=`M${x},${FB}v${-L}M${x},${FT}v${L}`; }
  for(let k=-37;k<=28;k+=2){ const p=k/10; const y=yScale(p); if(y<FT+1||y>FB-1) continue; tp+=`M${FL},${y}h3.5M${FR},${y}h-3.5`; }
  for(let k=-3;k<=2;k++){ const y=yScale(k); tp+=`M${FL},${y}h7M${FR},${y}h-7`; }
  mk("path",{d:tp,stroke:"#000","stroke-width":2,fill:"none"},g);
  xTicks.forEach(t=>{ const e=mk("text",{x:xScale(t),y:352,"text-anchor":"middle","font-family":fserif,"font-size":9,"font-weight":"bold"},g); e.textContent=t;
      });
  yTicks.forEach(p=>{ const e=mk("text",{x:42,y:yScale(p)+3,"text-anchor":"end","font-family":fserif,"font-size":9,"font-weight":"bold"},g); e.textContent=p.toFixed(1);
      });
  const xt=mk("text",{x:203,y:376,"text-anchor":"middle","font-family":fsans,"font-size":17.8},g); xt.textContent="Surface Air Temperature (in C)";
   
  const yt=mk("text",{x:0,y:0,"text-anchor":"middle","font-family":fsans,"font-size":17.8,transform:"translate(16,184) rotate(-90)"},g); yt.textContent="Precipitation (in mm/day)";
   
  const cb=mk("g",{},g);
  
  
  cbColors.forEach((c,i)=>{ const r=mk("rect",{x:375,y:41.7+i*16,width:19.5,height:16.3,fill:c},cb);
      });
  cbLabels.forEach((s,i)=>{ const e=mk("text",{x:432,y:36+i*16+5,"text-anchor":"end","font-family":fsans,"font-size":13},cb); e.textContent=s;
      });
});
</script>
</body></html>
